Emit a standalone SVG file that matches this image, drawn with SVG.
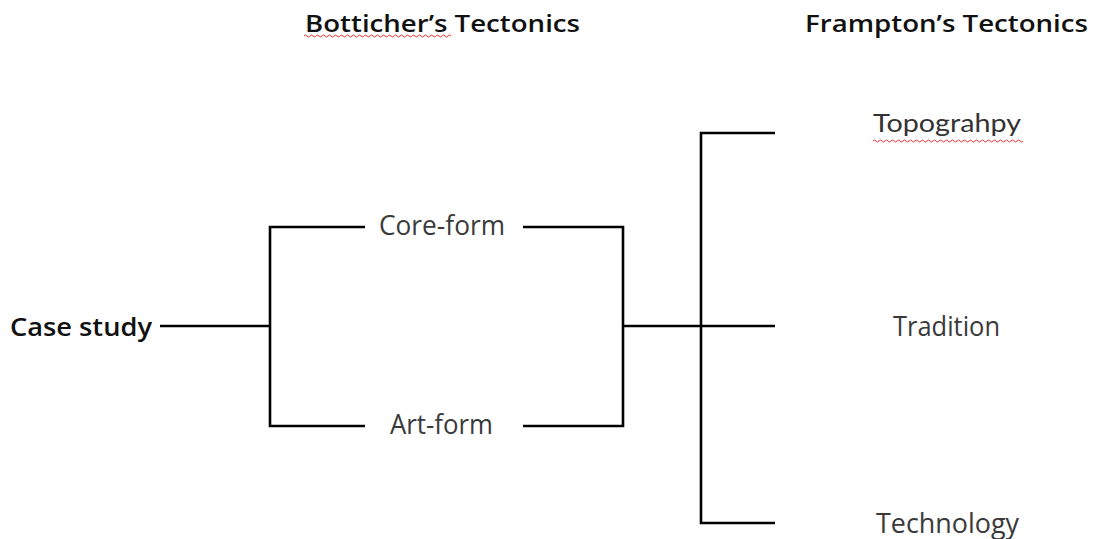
<svg xmlns="http://www.w3.org/2000/svg" width="1095" height="539" viewBox="0 0 1095 539">
<style>
.h{font-family:"Open Sans","Noto Sans",sans-serif;font-weight:600;font-size:24px;fill:#111}
.t{font-family:"Open Sans","Noto Sans",sans-serif;font-size:27px;fill:#3a3a3a;text-anchor:middle}
.l{font-family:Lato,"Open Sans",sans-serif;font-weight:400;font-size:25px;fill:#333;text-anchor:middle}
.b{font-family:"Open Sans","Noto Sans",sans-serif;font-weight:600;font-size:25px;fill:#111}
.c{fill:none;stroke:#000;stroke-width:2.6}
.sq{fill:none;stroke:#e33;stroke-width:1}
</style>
<rect width="1095" height="539" fill="#fff"/>
<g id="header-botticher"><text class="h" x="305" y="32" textLength="275" lengthAdjust="spacingAndGlyphs">Botticher’s Tectonics</text>
<path class="sq" d="M304 36 q1.5 -2 3 0 t3 0 t3 0 t3 0 t3 0 t3 0 t3 0 t3 0 t3 0 t3 0 t3 0 t3 0 t3 0 t3 0 t3 0 t3 0 t3 0 t3 0 t3 0 t3 0 t3 0 t3 0 t3 0 t3 0 t3 0 t3 0 t3 0 t3 0 t3 0 t3 0 t3 0 t3 0 t3 0 t3 0 t3 0 t3 0 t3 0 t3 0 t3 0 t3 0 t3 0 t3 0 t3 0 t3 0 t3 0 t3 0 t3 0 t3 0 t3 0"/></g>
<g id="header-frampton"><text class="h" x="805" y="32" textLength="283" lengthAdjust="spacingAndGlyphs">Frampton’s Tectonics</text></g>
<g id="node-case"><text class="b" x="10" y="336" textLength="142" lengthAdjust="spacingAndGlyphs">Case study</text></g>
<g id="node-core"><text class="t" x="442" y="235" textLength="126" lengthAdjust="spacingAndGlyphs">Core-form</text></g>
<g id="node-art"><text class="t" x="441.5" y="434" textLength="103" lengthAdjust="spacingAndGlyphs">Art-form</text></g>
<g id="node-topo"><text class="l" x="947" y="132" textLength="148" lengthAdjust="spacingAndGlyphs">Topograhpy</text>
<path class="sq" d="M873 141 q1.5 -2 3 0 t3 0 t3 0 t3 0 t3 0 t3 0 t3 0 t3 0 t3 0 t3 0 t3 0 t3 0 t3 0 t3 0 t3 0 t3 0 t3 0 t3 0 t3 0 t3 0 t3 0 t3 0 t3 0 t3 0 t3 0 t3 0 t3 0 t3 0 t3 0 t3 0 t3 0 t3 0 t3 0 t3 0 t3 0 t3 0 t3 0 t3 0 t3 0 t3 0 t3 0 t3 0 t3 0 t3 0 t3 0 t3 0 t3 0 t3 0 t3 0 t3 0"/></g>
<g id="node-trad"><text class="t" x="946.5" y="336" textLength="107" lengthAdjust="spacingAndGlyphs">Tradition</text></g>
<g id="node-tech"><text class="t" x="947.5" y="533" textLength="143" lengthAdjust="spacingAndGlyphs">Technology</text></g>
<g id="connectors">
<path class="c" d="M160 326 H270 M365 227 H270 V426 H365 M523 227 H623 V426 H523 M623 326 H775 M775 133 H701 V523 H775"/>
</g>
</svg>
